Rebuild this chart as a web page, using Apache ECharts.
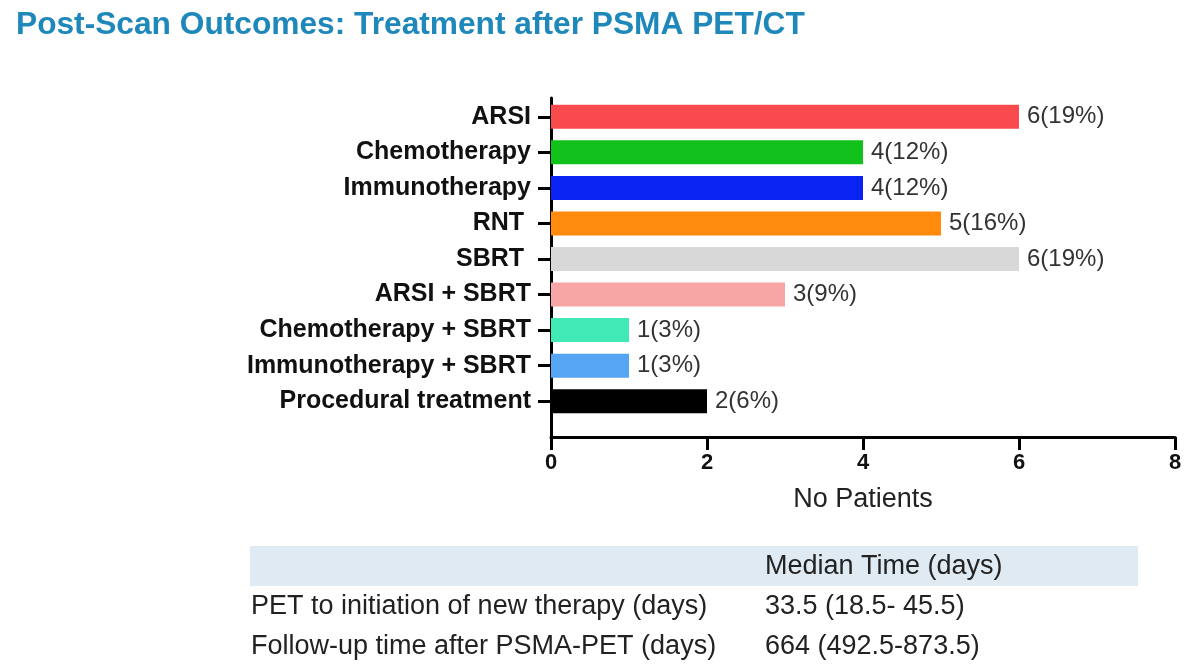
<!DOCTYPE html>
<html><head><meta charset="utf-8">
<script src="https://cdn.jsdelivr.net/npm/echarts@6/dist/echarts.min.js"></script>
<style>html,body{margin:0;padding:0;background:#fff}#c{width:1200px;height:668px}</style>
</head><body><div id="c"></div>
<script>
const titleText = 'Post-Scan Outcomes: Treatment after PSMA PET/CT';
const categories = ['ARSI', 'Chemotherapy', 'Immunotherapy', 'RNT ', 'SBRT ', 'ARSI + SBRT', 'Chemotherapy + SBRT', 'Immunotherapy + SBRT', 'Procedural treatment'];
const patients = [6, 4, 4, 5, 6, 3, 1, 1, 2];
const percents = [19, 12, 12, 16, 19, 9, 3, 3, 6];
const barColors = ['#f94a4e', '#12c11b', '#0a23f2', '#ff8a0c', '#d8d8d8', '#f8a5a5', '#41e9b6', '#56a5f4', '#000000'];
const xTicks = [0, 2, 4, 6, 8];
const xName = 'No Patients';
const tableHeader = ['', 'Median Time (days)'];
const tableRows = [
  ['PET to initiation of new therapy (days)', '33.5 (18.5- 45.5)'],
  ['Follow-up time after PSMA-PET (days)', '664 (492.5-873.5)']
];

const FONT = '"Liberation Sans", Arial, Helvetica, sans-serif';
const chart = echarts.init(document.getElementById('c'), null, {renderer: 'canvas'});
const xMin = xTicks[0], xMax = xTicks[xTicks.length - 1], xStep = xTicks[1] - xTicks[0];

const tableGraphics = [];
const colX = [251, 765];
tableGraphics.push({type: 'rect', shape: {x: 250, y: 546, width: 888, height: 40}, style: {fill: '#dfeaf2'}, silent: true});
tableHeader.forEach((t, i) => {
  if (t) tableGraphics.push({type: 'text', x: colX[i], y: 567, style: {text: t, font: '27px ' + FONT, fill: '#222', textVerticalAlign: 'middle', verticalAlign: 'middle'}});
});
tableRows.forEach((row, r) => {
  row.forEach((t, i) => {
    tableGraphics.push({type: 'text', x: colX[i], y: 607 + r * 40, style: {text: t, font: '27px ' + FONT, fill: '#222', textVerticalAlign: 'middle', verticalAlign: 'middle'}});
  });
});

chart.setOption({
  animation: false,
  backgroundColor: '#ffffff',
  title: {
    text: titleText, left: 11, top: 4,
    textStyle: {fontFamily: FONT, fontSize: 31.7, fontWeight: 'bold', color: '#1f88bb'}
  },
  grid: [
    {left: 551, right: 25, top: 99, height: 320, containLabel: false},
    {left: 551, right: 25, top: 98, height: 339, containLabel: false}
  ],
  xAxis: [
    {gridIndex: 0, type: 'value', min: xMin, max: xMax, interval: xStep, show: false},
    {gridIndex: 1, type: 'value', min: xMin, max: xMax, interval: xStep,
      axisLine: {show: true, lineStyle: {color: '#000', width: 3}},
      axisTick: {show: true, length: 13, lineStyle: {color: '#000', width: 3}},
      splitLine: {show: false},
      axisLabel: {margin: 15, fontFamily: FONT, fontSize: 22, fontWeight: 'bold', color: '#111'},
      name: xName, nameLocation: 'middle', nameGap: 49,
      nameTextStyle: {fontFamily: FONT, fontSize: 27, color: '#222'}
    }
  ],
  yAxis: [
    {gridIndex: 0, type: 'category', data: categories, inverse: true,
      axisLine: {show: false},
      axisTick: {show: true, alignWithLabel: true, length: 13, lineStyle: {color: '#000', width: 3}},
      axisLabel: {margin: 20, fontFamily: FONT, fontSize: 25, fontWeight: 'bold', color: '#111'},
      splitLine: {show: false}
    },
    {gridIndex: 1, type: 'value', min: 0, max: 1,
      axisLine: {show: true, lineStyle: {color: '#000', width: 3}},
      axisTick: {show: false}, axisLabel: {show: false}, splitLine: {show: false}
    }
  ],
  series: [{
    type: 'bar', xAxisIndex: 0, yAxisIndex: 0, barWidth: 24,
    data: patients.map((v, i) => ({value: v, itemStyle: {color: barColors[i]}})),
    label: {
      show: true, position: 'right', distance: 8,
      fontFamily: FONT, fontSize: 24, color: '#333',
      formatter: p => patients[p.dataIndex] + '(' + percents[p.dataIndex] + '%)'
    }
  }],
  graphic: tableGraphics
});
</script>
</body></html>
